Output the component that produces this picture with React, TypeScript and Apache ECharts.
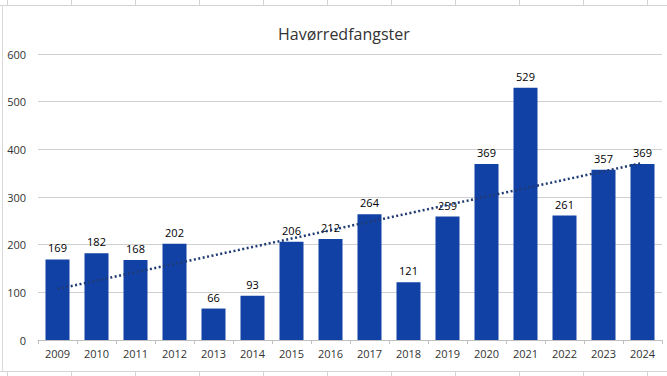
import React, { useEffect, useRef } from "react";
import * as echarts from "echarts";

const title = "Havørredfangster";
const years = ["2009","2010","2011","2012","2013","2014","2015","2016","2017","2018","2019","2020","2021","2022","2023","2024"];
const catches = [169, 182, 168, 202, 66, 93, 206, 212, 264, 121, 259, 369, 529, 261, 357, 369];
const yTicks = { min: 0, max: 600, interval: 100 };

// Linear trendline (least squares), as Excel computes it
function linearTrend(vals: number[]): number[] {
  const n = vals.length;
  const mx = (n - 1) / 2;
  const my = vals.reduce((a, b) => a + b, 0) / n;
  let sxy = 0, sxx = 0;
  vals.forEach((v, i) => { sxy += (i - mx) * (v - my); sxx += (i - mx) * (i - mx); });
  const slope = sxy / sxx;
  const b = my - slope * mx;
  return vals.map((_, i) => +(b + slope * i).toFixed(2));
}

export default function App() {
  const ref = useRef<HTMLDivElement>(null);
  useEffect(() => {
    if (!ref.current) return;
    const chart = echarts.init(ref.current, null, { renderer: "svg" });
    const cellXs = [7, 71, 135, 199, 263, 327, 391, 455, 519, 583, 647];
    const sheetLines: any[] = [
      { type: "line", shape: { x1: 0, y1: 5.5, x2: 667, y2: 5.5 }, style: { stroke: "#d4d4d4", lineWidth: 1 } },
      { type: "line", shape: { x1: 0, y1: 371.5, x2: 667, y2: 371.5 }, style: { stroke: "#d4d4d4", lineWidth: 1 } },
      { type: "line", shape: { x1: 2.5, y1: 6, x2: 2.5, y2: 371 }, style: { stroke: "#d9d9d9", lineWidth: 1 } },
    ];
    cellXs.forEach((x) => {
      sheetLines.push({ type: "line", shape: { x1: x + 0.5, y1: 0, x2: x + 0.5, y2: 5 }, style: { stroke: "#d4d4d4", lineWidth: 1 } });
      sheetLines.push({ type: "line", shape: { x1: x + 0.5, y1: 372, x2: x + 0.5, y2: 376 }, style: { stroke: "#d4d4d4", lineWidth: 1 } });
    });
    chart.setOption({
      animation: false,
      backgroundColor: "#ffffff",
      title: {
        text: title,
        left: 273,
        top: 21,
        textStyle: { fontFamily: "Open Sans", fontSize: 16, fontWeight: "normal", color: "#333333" },
      },
      graphic: sheetLines,
      grid: { left: 38, right: 5, top: 54, bottom: 36 },
      xAxis: {
        type: "category",
        data: years,
        axisLine: { lineStyle: { color: "#bfbfbf" } },
        axisTick: { show: true, length: 4, lineStyle: { color: "#bfbfbf" } },
        axisLabel: { color: "#333333", fontFamily: "Open Sans", fontSize: 11, margin: 8 },
      },
      yAxis: {
        type: "value",
        min: yTicks.min,
        max: yTicks.max,
        interval: yTicks.interval,
        axisLine: { show: false },
        axisTick: { show: false },
        splitLine: { lineStyle: { color: "#d0d0d0" } },
        axisLabel: { color: "#333333", fontFamily: "Open Sans", fontSize: 11, margin: 12 },
      },
      series: [
        {
          type: "bar",
          data: catches,
          barWidth: 24,
          itemStyle: { color: "#1241a6" },
          label: { show: true, position: "top", distance: 6, color: "#000000", fontFamily: "Open Sans", fontSize: 11 },
        },
        {
          type: "line",
          data: linearTrend(catches),
          symbol: "none",
          lineStyle: { color: "#1f3b73", width: 2.5, type: [2, 2.5] },
          z: 5,
        },
      ],
    });
    return () => chart.dispose();
  }, []);
  return <div ref={ref} style={{ position: "fixed", left: 0, top: 0, width: 667, height: 376 }} />;
}
